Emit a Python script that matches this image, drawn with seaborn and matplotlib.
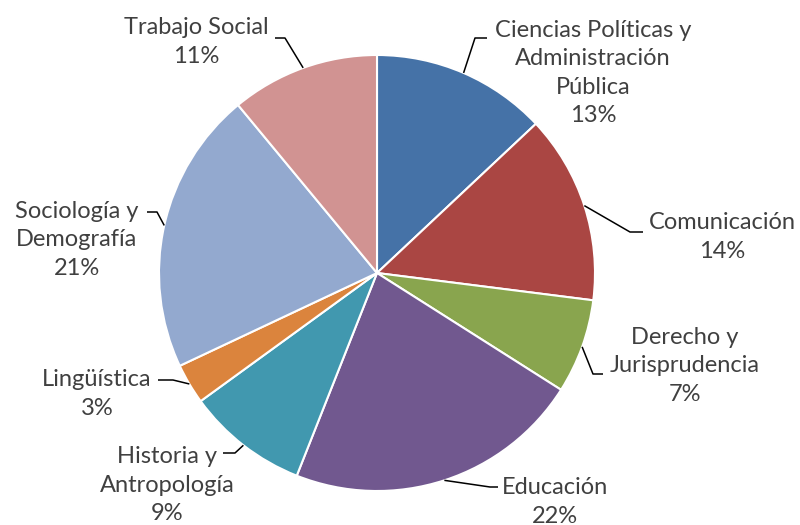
import matplotlib
matplotlib.use("Agg")
import numpy as np
import matplotlib.pyplot as plt
import seaborn as sns

# data
categories = ["Ciencias Políticas y\nAdministración\nPública", "Comunicación",
              "Derecho y\nJurisprudencia", "Educación", "Historia y\nAntropología",
              "Lingüística", "Sociología y\nDemografía", "Trabajo Social"]
shares = [13, 14, 7, 22, 9, 3, 21, 11]
colors = ["#4572A7", "#AA4643", "#89A54E", "#71588F",
          "#4198AF", "#DB843D", "#93A9CF", "#D19392"]

sns.set_theme(style="white")
plt.rcParams["font.family"] = ["Lato", "DejaVu Sans"]

# pixel layout helpers: pie center (377, 273), radius 218 px
CX, CY, R = 377, 273, 218
W, H = 800, 525


def px(x, y):
    return (x - CX) / R, (CY - y) / R


# text centers and leader elbows in pixels
text_pos = [(593, 73), (722, 237), (685, 366), (555, 502),
            (167, 485), (97, 394), (77, 240), (196, 42)]
elbows = [[(475, 38), (487, 38)], [(630, 232), (643, 232)],
          [(593, 374), (603, 374)], [(490, 487), (498, 487)],
          [(235, 453), (223, 453)], [(173, 380), (158, 380)],
          [(157, 212), (147, 212)], [(285, 38), (275, 38)]]

fig = plt.figure(figsize=(8, 5.25), dpi=100)
ax = fig.add_axes([0, 0, 1, 1])
wedges, _ = ax.pie(shares, colors=colors, startangle=90, counterclock=False,
                   radius=1, center=(0, 0),
                   wedgeprops=dict(edgecolor="white", linewidth=1.5))
ax.set_xlim(-CX / R, (W - CX) / R)
ax.set_ylim((CY - H) / R, CY / R)
ax.set_aspect("equal")
ax.axis("off")

total = sum(shares)
for w, name, val, tp, el in zip(wedges, categories, shares, text_pos, elbows):
    mid = np.deg2rad((w.theta1 + w.theta2) / 2)
    pts = [(np.cos(mid), np.sin(mid))] + [px(*p) for p in el]
    xs, ys = zip(*pts)
    ax.plot(xs, ys, color="black", lw=1.1, solid_capstyle="butt")
    ax.text(*px(*tp), f"{name}\n{round(100 * val / total)}%", ha="center",
            va="center", fontsize=17, color="#404040", linespacing=1.45)

fig.savefig("out.png", dpi=100)
